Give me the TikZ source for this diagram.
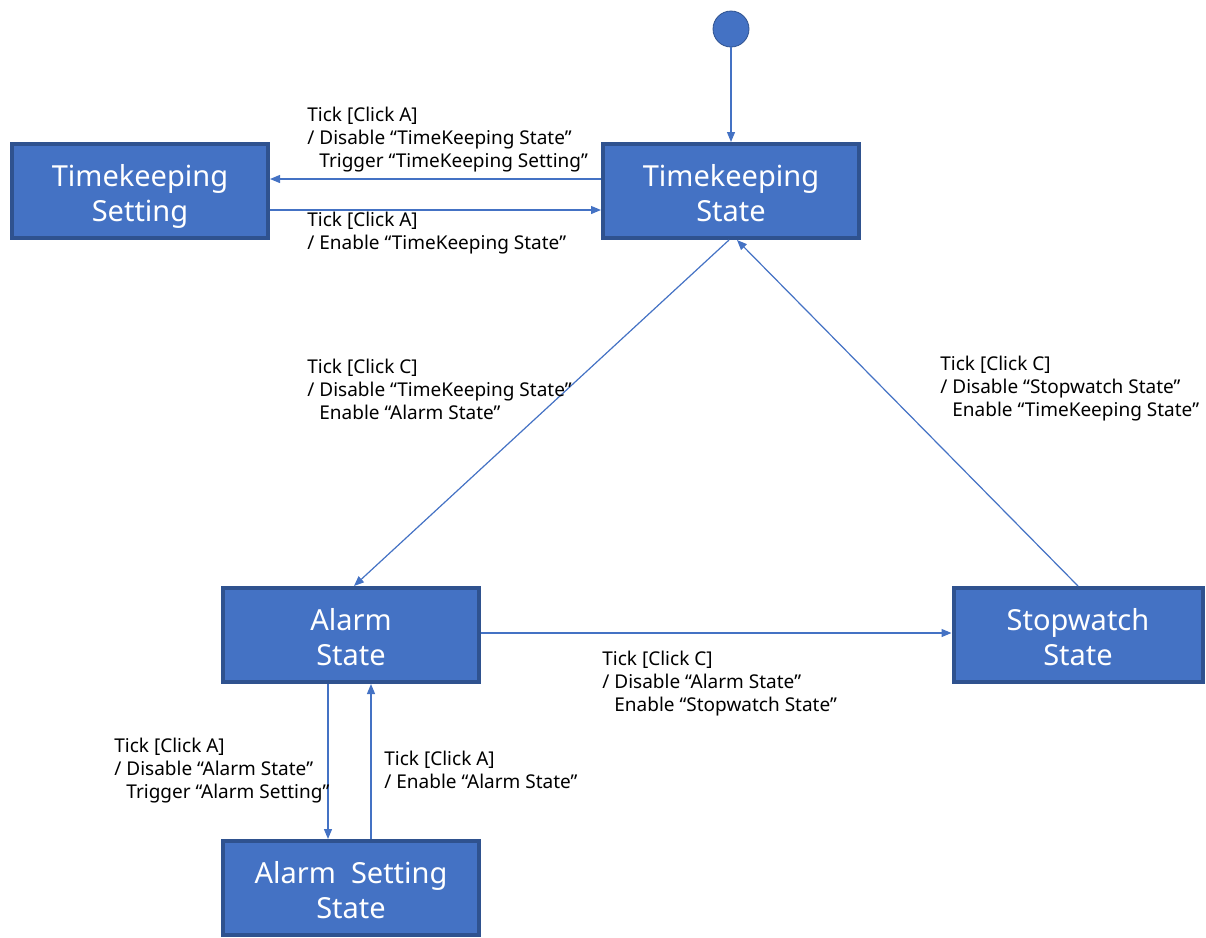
\documentclass[tikz,border=0pt]{standalone}
\usepackage{fontspec}
\setmainfont{Noto Sans}
\usetikzlibrary{arrows.meta}
\definecolor{boxblue}{HTML}{4472C4}
\definecolor{boxedge}{HTML}{2F528F}

\begin{document}
\begin{tikzpicture}[x=0.5pt,y=-0.5pt,
  state/.style={draw=boxedge, line width=2pt, fill=boxblue, text=white, minimum width=128pt, minimum height=47pt, align=center, inner sep=0pt, text height=30pt, text depth=0pt, font=\fontsize{14.5}{17.5}\selectfont},
  trans/.style={draw=boxblue, line width=0.6pt, -{Triangle[length=5pt,width=4pt]}},
  lbl/.style={anchor=west, align=left, inner sep=0pt, font=\fontsize{9.5}{11.5}\selectfont}]
\useasboundingbox (0,0) rectangle (1206,938);
% states
\node[circle, fill=boxblue, draw=boxedge, line width=0.4pt, minimum size=18pt, inner sep=0pt] (init) at (731,29) {};
\node[state] (tset) at (140,191) {Timekeeping\\Setting};
\node[state] (ts) at (731,191) {Timekeeping\\State};
\node[state] (as) at (351,635) {Alarm\\State};
\node[state, minimum width=124.5pt] (sw) at (1078,635) {Stopwatch\\State};
\node[state] (ass) at (351,888) {Alarm~ Setting\\State};
% transitions
\draw[trans] (init) -- (ts);
\draw[trans] ([yshift=6pt]ts.west) -- ([yshift=6pt]tset.east);
\draw[trans] ([yshift=-9.5pt]tset.east) -- ([yshift=-9.5pt]ts.west);
\draw[trans] ([xshift=-1pt]ts.south) -- ([xshift=1.5pt]as.north);
\draw[trans] (sw.north) -- ([xshift=3pt]ts.south);
\draw[trans] ([yshift=1pt]as.east) -- ([yshift=1pt]sw.west);
\draw[trans] ([xshift=-11.5pt]as.south) -- ([xshift=-11.5pt]ass.north);
\draw[trans] ([xshift=10pt]ass.north) -- ([xshift=10pt]as.south);
% labels
\node[lbl] (l1) at (307,140) {Tick [Click A]\\/ Disable “TimeKeeping State”\\\phantom{/ }Trigger “TimeKeeping Setting”};
\node[lbl] (l2) at (307,233) {Tick [Click A]\\/ Enable “TimeKeeping State”};
\node[lbl] (l3) at (307,389) {Tick [Click C]\\/ Disable “TimeKeeping State”\\\phantom{/ }Enable “Alarm State”};
\node[lbl] (l4) at (940,389) {Tick [Click C]\\/ Disable “Stopwatch State”\\\phantom{/ }Enable “TimeKeeping State”};
\node[lbl] (l5) at (602,684) {Tick [Click C]\\/ Disable “Alarm State”\\\phantom{/ }Enable “Stopwatch State”};
\node[lbl] (l6) at (114,771) {Tick [Click A]\\/ Disable “Alarm State”\\\phantom{/ }Trigger “Alarm Setting”};
\node[lbl] (l7) at (384,770) {Tick [Click A]\\/ Enable “Alarm State”};
\end{tikzpicture}
\end{document}
